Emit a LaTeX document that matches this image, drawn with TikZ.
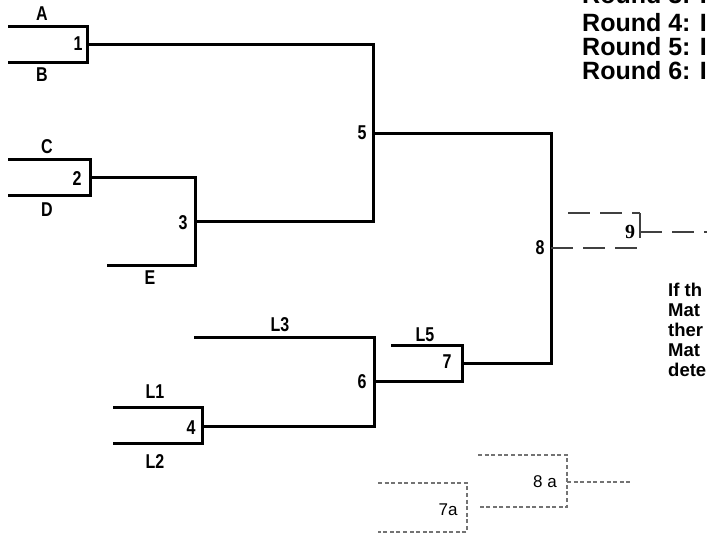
\documentclass[tikz,border=0pt]{standalone}
\usepackage{fontspec}
\setmainfont{Liberation Sans}
\newfontfamily\narrowfont[FakeStretch=0.8]{Liberation Sans}
\newfontfamily\seriffont{Liberation Serif}
\begin{document}
\begin{tikzpicture}[x=1pt,y=-1pt,
  wline/.style={line width=3pt,line join=miter},
  dline/.style={line width=2pt,black!75,dash pattern=on 22pt off 10pt},
  fline/.style={line width=1.7pt,black!55,dash pattern=on 4pt off 2.6pt},
  lbl/.style={font=\narrowfont\bfseries\fontsize{20}{22}\selectfont,inner sep=0pt},
  note/.style={font=\bfseries\fontsize{18.5}{20}\selectfont,anchor=base west,inner sep=0pt},
  head/.style={font=\bfseries\fontsize{25}{24}\selectfont,anchor=base west,inner sep=0pt}]
\useasboundingbox (0,0) rectangle (707,542);
\clip (0,0) rectangle (707,542);
% match 1
\coordinate (A1) at (8,26);
\coordinate (A2) at (87,26);
\coordinate (B1) at (8,62);
\coordinate (B2) at (87,62);
\coordinate (O1) at (87,44);
% match 2 and 3
\coordinate (C1) at (8,159);
\coordinate (C2) at (90,159);
\coordinate (D1) at (8,195);
\coordinate (D2) at (90,195);
\coordinate (O2) at (90,177);
\coordinate (T3) at (195,177);
\coordinate (E1) at (107,265);
\coordinate (E2) at (195,265);
\coordinate (O3) at (195,221);
% match 5
\coordinate (T5) at (373,44);
\coordinate (B5) at (373,221);
\coordinate (O5) at (373,133);
\coordinate (T8) at (551,133);
\coordinate (B8) at (551,363);
\coordinate (O8) at (551,248);
% losers side
\coordinate (L3a) at (194,337);
\coordinate (L3b) at (374,337);
\coordinate (B6) at (374,426);
\coordinate (O6) at (374,381);
\coordinate (L1a) at (113,407);
\coordinate (L1b) at (202,407);
\coordinate (L2a) at (113,443);
\coordinate (L2b) at (202,443);
\coordinate (O4) at (202,426);
\coordinate (L5a) at (391,345);
\coordinate (L5b) at (462,345);
\coordinate (B7) at (462,381);
\coordinate (O7) at (462,363);
% match 9
\coordinate (T9a) at (568,213);
\coordinate (T9b) at (640,213);
\coordinate (B9) at (640,238);
\coordinate (M9) at (642,248);
\coordinate (O9) at (640,232);
\coordinate (X9) at (710,232);
% 7a and 8a
\coordinate (S7a) at (378,483);
\coordinate (S7b) at (467,483);
\coordinate (U7a) at (378,532);
\coordinate (U7b) at (467,532);
\coordinate (S8a) at (478,455);
\coordinate (S8b) at (567,455);
\coordinate (U8a) at (478,507);
\coordinate (U8b) at (567,507);
\coordinate (O8a) at (567,482);
\coordinate (X8a) at (630,482);
\draw[wline] (A1) -- (A2) -- (B2) -- (B1);
\draw[wline] (C1) -- (C2) -- (D2) -- (D1);
\draw[wline] (O1) -- (T5) -- (B5) -- (O3);
\draw[wline] (O2) -- (T3) -- (E2) -- (E1);
\draw[wline] (O5) -- (T8) -- (B8) -- (O7);
\draw[wline] (L3a) -- (L3b) -- (B6) -- (O4);
\draw[wline] (L1a) -- (L1b) -- (L2b) -- (L2a);
\draw[wline] (O6) -- (B7) -- (L5b) -- (L5a);
\draw[dline] (O8) -- (M9);
\draw[dline] (T9a) -- (T9b);
\draw[line width=1.8pt,black!75] (T9b) -- (B9);
\draw[dline] (O9) -- (X9);
\draw[fline] (S7a) -- (S7b) -- (U7b) -- (U7a);
\draw[fline] (S8a) -- (S8b) -- (U8b) -- (U8a);
\draw[fline] (O8a) -- (X8a);
\node[lbl] (lA) at (42,14) {A};
\node[lbl] (lB) at (42,75) {B};
\node[lbl] (n1) at (78,44) {1};
\node[lbl] (lC) at (47,147) {C};
\node[lbl] (lD) at (47,210) {D};
\node[lbl] (n2) at (77,179) {2};
\node[lbl] (lE) at (150,278) {E};
\node[lbl] (n3) at (183,223) {3};
\node[lbl] (n5) at (362,133) {5};
\node[lbl] (n8) at (540,248) {8};
\node[lbl] (lL3) at (280,325) {L3};
\node[lbl] (n6) at (362,382) {6};
\node[lbl] (lL5) at (425,335) {L5};
\node[lbl] (n7) at (447,362) {7};
\node[lbl] (lL1) at (155,392) {L1};
\node[lbl] (lL2) at (155,462) {L2};
\node[lbl] (n4) at (191,428) {4};
\node[font=\seriffont\bfseries\fontsize{20}{22}\selectfont,inner sep=0pt] (n9) at (630,232) {9};
\node[font=\fontsize{17}{19}\selectfont,inner sep=0pt] (n7a) at (448,510) {7a};
\node[font=\fontsize{17}{19}\selectfont,inner sep=0pt] (n8a) at (545,482) {8 a};
\node[head] (r3) at (582,3) {Round 3: I};
\node[head] (r4) at (582,31) {Round 4: I};
\node[head] (r5) at (582,55) {Round 5: I};
\node[head] (r6) at (582,79) {Round 6: I};
\node[note] (t1) at (668,296) {If th};
\node[note] (t2) at (668,316) {Mat};
\node[note] (t3) at (668,336) {ther};
\node[note] (t4) at (668,356) {Mat};
\node[note] (t5) at (668,376) {dete};
\end{tikzpicture}
\end{document}
